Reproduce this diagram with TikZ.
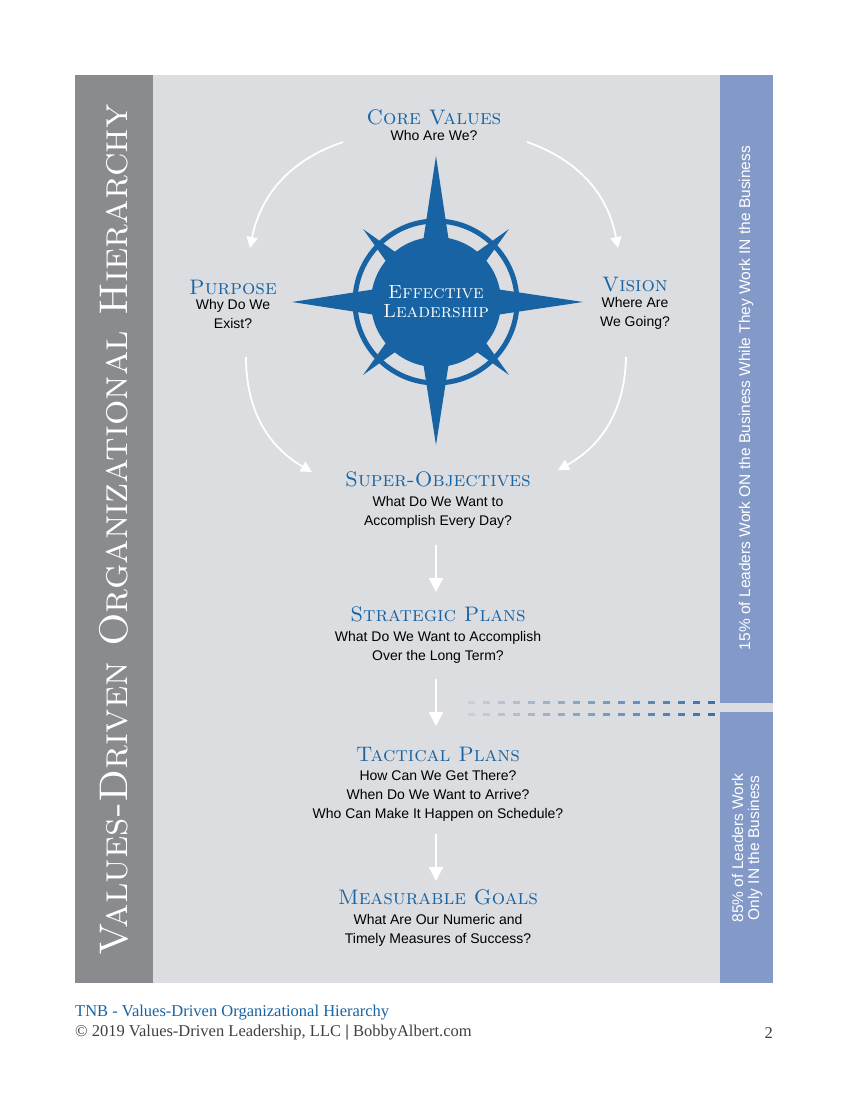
\documentclass[tikz,border=0pt]{standalone}
\usepackage{fontspec}
\setsansfont{Liberation Sans}
\newfontfamily\titlefont{Liberation Serif}
\usetikzlibrary{arrows.meta,calc,positioning}
\definecolor{panelgray}{HTML}{DCDDE0}
\definecolor{stripgray}{HTML}{8A8B8E}
\definecolor{tnbblue}{HTML}{1763A3}
\definecolor{sideblue}{HTML}{8399C7}
\tikzset{
    heading/.style = {
        text=tnbblue,
        font=\fontsize{21}{22}\selectfont\scshape,
        inner sep=1pt,
        },
    question/.style = {
        font=\sffamily\fontsize{14}{19}\selectfont,
        align=center,
        inner sep=1pt,
        },
    flow/.style = {
        draw=white,
        line width=2pt,
        -{Triangle[width=14pt,length=14pt]},
        },
    curve/.style = {
        draw=white,
        line width=1.8pt,
        -{Triangle[width=11pt,length=11pt]},
        },
    side text/.style = {
        text=white,
        font=\sffamily\fontsize{15.5}{16}\selectfont,
        align=center,
        rotate=90,
        },
    foot/.style = {
        font=\titlefont\fontsize{16.5}{17}\selectfont,
        anchor=west,
        inner sep=0pt,
        },
}
\begin{document}
\begin{tikzpicture}[x=1pt,y=-1pt]
    \useasboundingbox[fill=white] (0,0) rectangle (849,1100);
    % panels
    \fill[panelgray] (75,75) rectangle (773,983);
    \fill[stripgray] (75,75) rectangle (153,983);
    \fill[sideblue] (720,75) rectangle (773,703);
    \fill[sideblue] (720,712) rectangle (773,983);
    \node[text=white, rotate=90, font=\fontsize{40}{42}\selectfont\scshape] (title) at (114,530) {Values-Driven Organizational Hierarchy};
    \node[side text] (onbiz) at (746,398) {15\% of Leaders Work ON the Business While They Work IN the Business};
    \node[side text] (inbiz) at (747,848) {85\% of Leaders Work\\Only IN the Business};

    % compass
    \coordinate (C) at (436,302);
    \foreach \a in {45,135,225,315}
        \fill[tnbblue] ($(C)+(\a:103)$) -- ($(C)+(\a+7:60)$) -- ($(C)+(\a-7:60)$) -- cycle;
    \draw[tnbblue, line width=5pt] (C) circle (81);
    \fill[tnbblue] (C) circle (65);
    \foreach \a/\r in {90/143,270/146,0/147,180/144}
        \fill[tnbblue] ($(C)+(\a:\r)$) -- ($(C)+(\a+12:62)$) -- ($(C)+(\a-12:62)$) -- cycle;
    \node[text=white, font=\fontsize{19}{19}\selectfont\scshape, align=center] (lead) at (C) {Effective\\Leadership};

    % headings
    \node[heading] (core) at (434,117) {Core Values};
    \node[question, below=3pt of core] (coreq) {Who Are We?};
    \node[heading] (purp) at (233,287) {Purpose};
    \node[question, below=3pt of purp] (purpq) {Why Do We\\Exist?};
    \node[heading] (vis) at (635,285) {Vision};
    \node[question, below=3pt of vis] (visq) {Where Are\\We Going?};
    \node[heading] (super) at (438,479) {Super-Objectives};
    \node[question, below=7pt of super] (superq) {What Do We Want to\\Accomplish Every Day?};
    \node[heading] (strat) at (438,614) {Strategic Plans};
    \node[question, below=7pt of strat] (stratq) {What Do We Want to Accomplish\\Over the Long Term?};
    \node[heading] (tact) at (438,754) {Tactical Plans};
    \node[question, below=7pt of tact] (tactq) {How Can We Get There?\\When Do We Want to Arrive?\\Who Can Make It Happen on Schedule?};
    \node[heading] (goal) at (438,897) {Measurable Goals};
    \node[question, below=7pt of goal] (goalq) {What Are Our Numeric and\\Timely Measures of Success?};

    % connectors
    \coordinate (a1) at (343,142);  \coordinate (b1) at (250,248);
    \coordinate (a2) at (527,142);  \coordinate (b2) at (618,248);
    \coordinate (a3) at (246,357);  \coordinate (b3) at (312,472);
    \coordinate (a4) at (626,357);  \coordinate (b4) at (558,470);
    \draw[curve] (a1) to[bend right=30] (b1);
    \draw[curve] (a2) to[bend left=30] (b2);
    \draw[curve] (a3) to[bend right=30] (b3);
    \draw[curve] (a4) to[bend left=30] (b4);
    \coordinate (d1) at (436,545); \coordinate (e1) at (436,592);
    \coordinate (d2) at (436,679); \coordinate (e2) at (436,726);
    \coordinate (d3) at (436,834); \coordinate (e3) at (436,881);
    \draw[flow] (d1) -- (e1);
    \draw[flow] (d2) -- (e2);
    \draw[flow] (d3) -- (e3);

    % fading dashes
    \foreach \i in {0,...,16} {
        \pgfmathsetmacro{\op}{0.12+0.88*\i/16}
        \fill[tnbblue!70!sideblue, opacity=\op] (468+15*\i,701) rectangle ++(7,3);
        \fill[tnbblue!70!sideblue, opacity=\op] (468+15*\i,713) rectangle ++(7,3);
    }

    % footer
    \node[foot, text=tnbblue] (f1) at (75,1013) {TNB - Values-Driven Organizational Hierarchy};
    \node[foot, text=black!75] (f2) at (75,1033) {\textcopyright{} 2019 Values-Driven Leadership, LLC \textbf{|} BobbyAlbert.com};
    \node[foot, text=black!75, anchor=east] (pg) at (773,1033) {2};
\end{tikzpicture}
\end{document}
